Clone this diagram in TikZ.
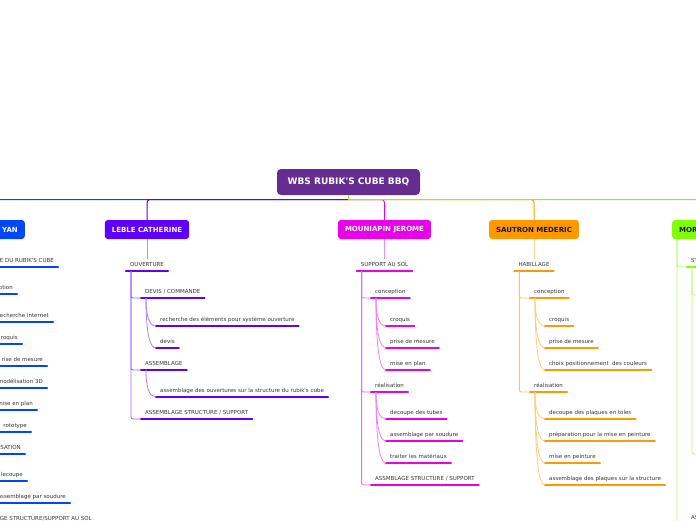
\documentclass[tikz,border=0pt]{standalone}
\usepackage{fontspec}
\setmainfont{DejaVu Sans}
\usetikzlibrary{calc}
\definecolor{cRoot}{RGB}{102,45,145}
\definecolor{cB}{RGB}{0,70,255}
\definecolor{cP}{RGB}{94,0,255}
\definecolor{cM}{RGB}{235,0,235}
\definecolor{cO}{RGB}{255,153,0}
\definecolor{cG}{RGB}{128,255,0}
\definecolor{cTxt}{RGB}{55,55,55}
\definecolor{cDark}{RGB}{25,25,25}
\tikzset{
  lbl/.style={font=\fontsize{5.5}{6.6}\selectfont, text=cTxt, inner xsep=4pt, inner ysep=4pt, text depth=0pt},
  barline/.style={line width=2.2pt, line cap=round, draw=#1},
  linkb/.style={line width=0.9pt, draw=#1!60!white, rounded corners=2pt},
  linkc/.style={line width=0.8pt, draw=#1!50!white},
  linkroot/.style={line width=1pt, draw=#1, rounded corners=3pt},
  linkdown/.style={line width=0.9pt, draw=#1!45!white},
  mainnode/.style={rounded corners=3pt, minimum height=19pt, inner xsep=7pt, inner ysep=0pt, font=\bfseries\fontsize{7}{8}\selectfont},
}
\newcommand\wbsbar[2]{\draw[barline=#2] (#1.south west) -- (#1.south east);}
\newcommand\wbsitem[5]{\node[lbl, anchor=south west] (#1) at (#2-4,#3) {#4};\wbsbar{#1}{#5}}
\newcommand\wbsbranch[3]{\draw[linkb=#3] ([xshift=5pt]#1.south west) |- (#2.south west);}
\newcommand\wbscurve[3]{\coordinate (tmpa) at ([xshift=5pt]#1.south west);
  \draw[linkc=#3] (tmpa) .. controls ($(tmpa)!.667!(tmpa |- #2.south west)$) and ($(#2.south west)!.667!(tmpa |- #2.south west)$) .. (#2.south west);}
\begin{document}
\begin{tikzpicture}[x=1pt,y=-1pt]
\fill[white] (0,0) rectangle (696,520);
\useasboundingbox (0,0) rectangle (696,520);

% root
\node[rounded corners=4pt, fill=cRoot, text=white, font=\bfseries\fontsize{9}{10}\selectfont, minimum width=143pt, minimum height=26pt, inner sep=0pt] (root) at (348.5,182) {WBS RUBIK\textquotesingle S CUBE BBQ};

% main nodes
\node[mainnode, fill=cB, text=white, anchor=east, text width=60pt, align=right] (yan) at (25,229.5) {YAN};
\node[mainnode, fill=cP, text=white] (leble) at (147,229.5) {LEBLE CATHERINE};
\node[mainnode, fill=cM, text=white] (moun) at (384.5,229.5) {MOUNIAPIN JEROME};
\node[mainnode, fill=cO, text=cDark] (saut) at (534,229.5) {SAUTRON MEDERIC};
\node[mainnode, fill=cG, text=cDark, anchor=west, text width=86pt, align=left] (mor) at (672,229.5) {MOR};

% root connectors
\coordinate (hub) at (root.south |- 0,199.5);
\draw[linkroot=cB] (hub) -| (yan.north);
\draw[linkroot=cP] (hub) -| (leble.north);
\draw[linkroot=cM] (hub) -| (moun.north);
\draw[linkroot=cO] (hub) -| (saut.north);
\draw[linkroot=cG] (hub) -| (mor.north);
\draw[line width=1pt, cG] (root.south) -- (hub);

% LEBLE subtree
\node[lbl, anchor=south] (ouv) at (leble.south |- 0,271) {OUVERTURE};\wbsbar{ouv}{cP}
\wbsitem{dev}{145}{298}{DEVIS / COMMANDE}{cP}
\wbsitem{rech}{160}{326}{recherche des éléments pour système ouverture}{cP}
\wbsitem{devis}{160}{348}{devis}{cP}
\wbsitem{assb}{145}{370}{ASSEMBLAGE}{cP}
\wbsitem{asso}{160}{397}{assemblage des ouvertures sur la structure du rubik\textquotesingle s cube}{cP}
\wbsitem{asss}{145}{419}{ASSEMBLAGE STRUCTURE / SUPPORT}{cP}
\draw[linkdown=cP] (leble.south) -- (ouv.north);
\wbsbranch{ouv}{dev}{cP}
\wbsbranch{ouv}{assb}{cP}
\wbsbranch{ouv}{asss}{cP}
\wbscurve{dev}{rech}{cP}
\wbscurve{dev}{devis}{cP}
\wbscurve{assb}{asso}{cP}

% MOUNIAPIN subtree
\node[lbl, anchor=south] (sup) at (moun.south |- 0,271) {SUPPORT AU SOL};\wbsbar{sup}{cM}
\wbsitem{conc}{375}{298}{conception}{cM}
\wbsitem{croq}{390}{326}{croquis}{cM}
\wbsitem{prise}{390}{348}{prise de mesure}{cM}
\wbsitem{mise}{390}{370}{mise en plan}{cM}
\wbsitem{real}{375}{392}{réalisation}{cM}
\wbsitem{dect}{390}{419}{decoupe des tubes}{cM}
\wbsitem{asps}{390}{441}{assemblage par soudure}{cM}
\wbsitem{trai}{390}{463}{traiter les matériaux}{cM}
\wbsitem{assm}{375}{485}{ASSMBLAGE STRUCTURE / SUPPORT}{cM}
\draw[linkdown=cM] (moun.south) -- (sup.north);
\wbsbranch{sup}{conc}{cM}
\wbsbranch{sup}{real}{cM}
\wbsbranch{sup}{assm}{cM}
\wbscurve{conc}{croq}{cM}
\wbscurve{conc}{prise}{cM}
\wbscurve{conc}{mise}{cM}
\wbscurve{real}{dect}{cM}
\wbscurve{real}{asps}{cM}
\wbscurve{real}{trai}{cM}

% SAUTRON subtree
\node[lbl, anchor=south] (hab) at (saut.south |- 0,271) {HABILLAGE};\wbsbar{hab}{cO}
\wbsitem{oconc}{534}{298}{conception}{cO}
\wbsitem{ocroq}{549}{326}{croquis}{cO}
\wbsitem{oprise}{549}{348}{prise de mesure}{cO}
\wbsitem{ochoix}{549}{370}{choix positionnement\ \ des couleurs}{cO}
\wbsitem{oreal}{534}{392}{réalisation}{cO}
\wbsitem{odec}{549}{419}{decoupe des plaques en toles}{cO}
\wbsitem{oprep}{549}{441}{préparation pour la mise en peinture}{cO}
\wbsitem{omise}{549}{463}{mise en peinture}{cO}
\wbsitem{oass}{549}{485}{assemblage des plaques sur la structure}{cO}
\draw[linkdown=cO] (saut.south) -- (hab.north);
\wbsbranch{hab}{oconc}{cO}
\wbsbranch{hab}{oreal}{cO}
\wbscurve{oconc}{ocroq}{cO}
\wbscurve{oconc}{oprise}{cO}
\wbscurve{oconc}{ochoix}{cO}
\wbscurve{oreal}{odec}{cO}
\wbscurve{oreal}{oprep}{cO}
\wbscurve{oreal}{omise}{cO}
\wbscurve{oreal}{oass}{cO}

% green subtree (cut at right edge)
\node[lbl, anchor=south west] (st) at (687,267) {ST};\wbsbar{st}{cG}
\node[lbl, anchor=south west] (as) at (687,524) {AS};\wbsbar{as}{cG}
\coordinate (st1) at (701,295);
\coordinate (st2) at (701,454);
\wbsbranch{mor}{st}{cG}
\wbsbranch{mor}{as}{cG}
\draw[linkb=cG] ([xshift=5pt]st.south west) |- (st1);
\draw[linkb=cG] ([xshift=5pt]st.south west) |- (st2);

% blue subtree (cut at left edge)
\node[lbl, anchor=south east] (b1) at (58,267) {E DU RUBIK\textquotesingle S CUBE};\wbsbar{b1}{cB}
\node[lbl, anchor=south east] (b2) at (17,294) {otion};\wbsbar{b2}{cB}
\node[lbl, anchor=south east] (b3) at (53,322) {echerche internet};\wbsbar{b3}{cB}
\node[lbl, anchor=south east] (b4) at (22,344) {roquis};\wbsbar{b4}{cB}
\node[lbl, anchor=south east] (b5) at (47,366) {rise de mesure};\wbsbar{b5}{cB}
\node[lbl, anchor=south east] (b6) at (47,388) {nodélisation 3D};\wbsbar{b6}{cB}
\node[lbl, anchor=south east] (b7) at (37,410) {nise en plan};\wbsbar{b7}{cB}
\node[lbl, anchor=south east] (b8) at (31,432) {rototype};\wbsbar{b8}{cB}
\node[lbl, anchor=south east] (b9) at (25,454) {SATION};\wbsbar{b9}{cB}
\node[lbl, anchor=south east] (b10) at (27,481) {lecoupe};\wbsbar{b10}{cB}
\node[lbl, anchor=south east] (b11) at (70,503) {assemblage par soudure};\wbsbar{b11}{cB}
\node[lbl, anchor=south east] (b12) at (96,525) {GE STRUCTURE/SUPPORT AU SOL};\wbsbar{b12}{cB}
\end{tikzpicture}
\end{document}
